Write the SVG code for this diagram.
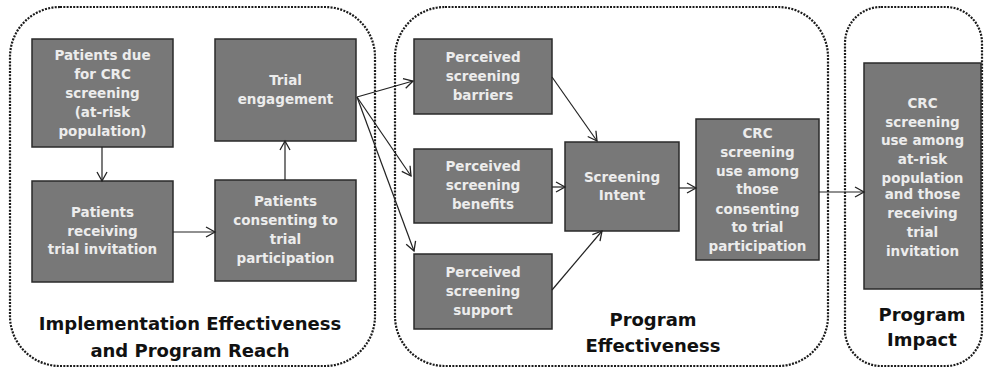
<svg xmlns="http://www.w3.org/2000/svg" width="984" height="370" viewBox="0 0 984 370">
<style>
.cont{fill:none;stroke:#1a1a1a;stroke-width:2.2;stroke-dasharray:2 1.3}
.box{fill:#787878;stroke:#2a2a2a;stroke-width:1.5}
.bt{font-family:"DejaVu Sans","Liberation Sans",sans-serif;font-weight:bold;font-size:13.5px;fill:#ececec;text-anchor:middle}
.title{font-family:"DejaVu Sans","Liberation Sans",sans-serif;font-weight:bold;font-size:18px;fill:#111;text-anchor:middle}
.conn line{stroke:#222;stroke-width:1.2;marker-end:url(#ah)}
</style>
<defs>
<marker id="ah" markerUnits="userSpaceOnUse" markerWidth="12" markerHeight="12" viewBox="0 0 12 12" refX="10" refY="6" orient="auto">
<path d="M1,1 L10,6 L1,11" fill="none" stroke="#222" stroke-width="1.3"/>
</marker>
</defs>
<rect width="984" height="370" fill="#fff"/>
<g id="container-left"><rect class="cont" x="10" y="7" width="365" height="359" rx="50"/>
<text class="title" x="190" y="330">Implementation Effectiveness</text>
<text class="title" x="190" y="357">and Program Reach</text></g>
<g id="container-mid"><rect class="cont" x="395" y="7" width="433" height="359" rx="50"/>
<text class="title" x="653" y="326">Program</text>
<text class="title" x="653" y="352">Effectiveness</text></g>
<g id="container-right"><rect class="cont" x="845" y="7" width="137" height="359" rx="36"/>
<text class="title" x="922" y="321">Program</text>
<text class="title" x="922" y="346">Impact</text></g>

<g id="n-due"><rect class="box" x="32" y="39" width="141" height="108"/>
<text class="bt" x="102.5" y="60">Patients due</text>
<text class="bt" x="102.5" y="79">for CRC</text>
<text class="bt" x="102.5" y="98">screening</text>
<text class="bt" x="102.5" y="117">(at-risk</text>
<text class="bt" x="102.5" y="136">population)</text></g>
<g id="n-receiving"><rect class="box" x="32" y="181" width="141" height="101"/>
<text class="bt" x="102.5" y="217">Patients</text>
<text class="bt" x="102.5" y="236">receiving</text>
<text class="bt" x="102.5" y="254">trial invitation</text></g>
<g id="n-consenting"><rect class="box" x="215" y="180" width="141" height="101"/>
<text class="bt" x="285.5" y="206">Patients</text>
<text class="bt" x="285.5" y="225">consenting to</text>
<text class="bt" x="285.5" y="244">trial</text>
<text class="bt" x="285.5" y="263">participation</text></g>
<g id="n-engagement"><rect class="box" x="215" y="39" width="141" height="102"/>
<text class="bt" x="285.5" y="85">Trial</text>
<text class="bt" x="285.5" y="104">engagement</text></g>

<g id="n-barriers"><rect class="box" x="414" y="39" width="138" height="75"/>
<text class="bt" x="483" y="62">Perceived</text>
<text class="bt" x="483" y="81">screening</text>
<text class="bt" x="483" y="100">barriers</text></g>
<g id="n-benefits"><rect class="box" x="414" y="149" width="138" height="74"/>
<text class="bt" x="483" y="171">Perceived</text>
<text class="bt" x="483" y="190">screening</text>
<text class="bt" x="483" y="209">benefits</text></g>
<g id="n-support"><rect class="box" x="414" y="254" width="138" height="75"/>
<text class="bt" x="483" y="277">Perceived</text>
<text class="bt" x="483" y="296">screening</text>
<text class="bt" x="483" y="315">support</text></g>
<g id="n-intent"><rect class="box" x="565" y="142" width="114" height="89"/>
<text class="bt" x="622" y="182">Screening</text>
<text class="bt" x="622" y="200">Intent</text></g>
<g id="n-use-consenting"><rect class="box" x="696" y="119" width="123" height="141"/>
<text class="bt" x="757.5" y="138">CRC</text>
<text class="bt" x="757.5" y="157">screening</text>
<text class="bt" x="757.5" y="176">use among</text>
<text class="bt" x="757.5" y="194">those</text>
<text class="bt" x="757.5" y="214">consenting</text>
<text class="bt" x="757.5" y="232">to trial</text>
<text class="bt" x="757.5" y="251">participation</text></g>
<g id="n-impact"><rect class="box" x="864" y="63" width="117" height="226"/>
<text class="bt" x="922.5" y="108">CRC</text>
<text class="bt" x="922.5" y="127">screening</text>
<text class="bt" x="922.5" y="145">use among</text>
<text class="bt" x="922.5" y="164">at-risk</text>
<text class="bt" x="922.5" y="183">population</text>
<text class="bt" x="922.5" y="199">and those</text>
<text class="bt" x="922.5" y="218">receiving</text>
<text class="bt" x="922.5" y="237">trial</text>
<text class="bt" x="922.5" y="256">invitation</text></g>

<g id="connectors" class="conn">
<line x1="102" y1="147" x2="102" y2="181"/>
<line x1="173" y1="232" x2="215" y2="232"/>
<line x1="285" y1="180" x2="285" y2="141"/>
<line x1="357" y1="97" x2="413" y2="81"/>
<line x1="357" y1="97" x2="411" y2="176"/>
<line x1="357" y1="97" x2="414" y2="251"/>
<line x1="552" y1="77" x2="597" y2="141"/>
<line x1="552" y1="187" x2="565" y2="187"/>
<line x1="552" y1="290" x2="602" y2="231"/>
<line x1="679" y1="188" x2="696" y2="188"/>
<line x1="819" y1="192" x2="864" y2="192"/>
</g>
</svg>
